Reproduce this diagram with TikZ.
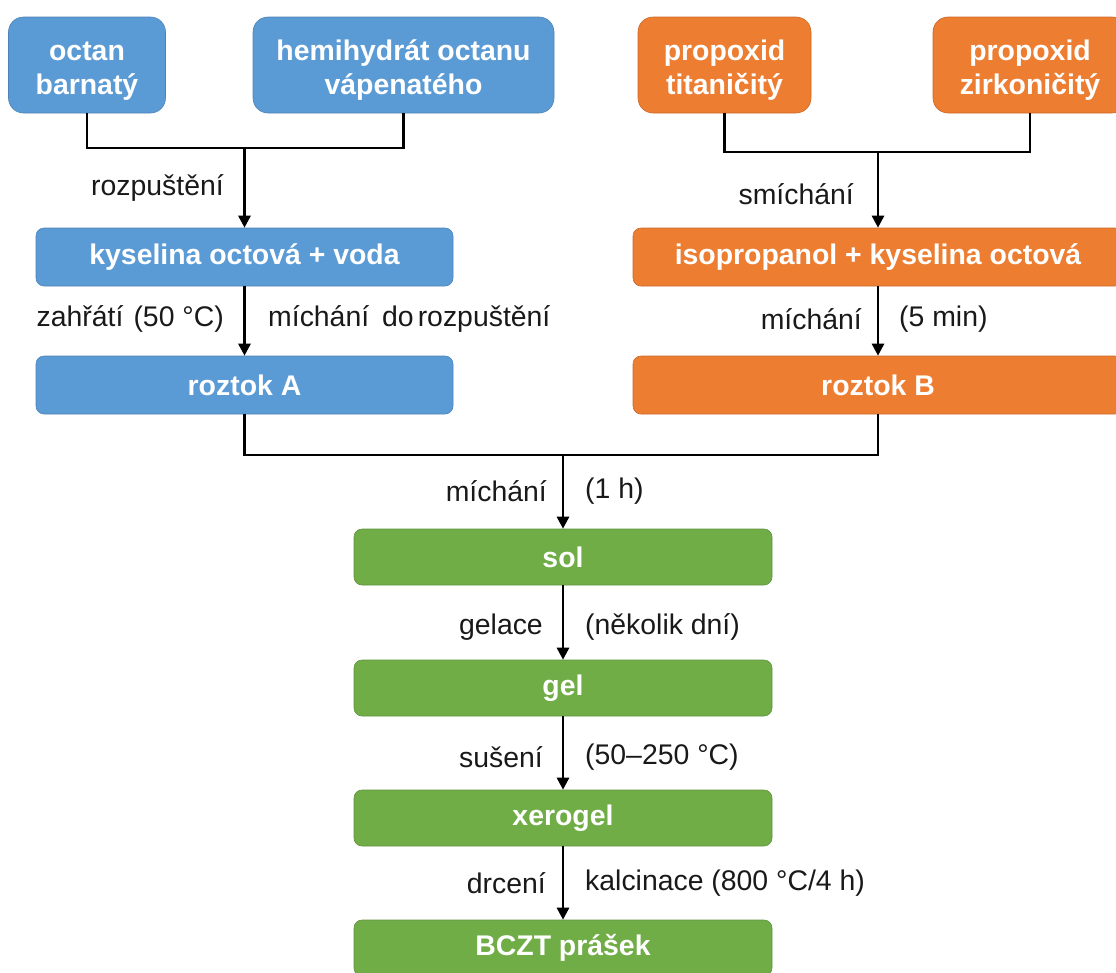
\documentclass[tikz,border=0pt]{standalone}
\usepackage{fontspec}
\setmainfont{Liberation Sans}
\usetikzlibrary{arrows.meta}
\definecolor{cblue}{HTML}{5B9BD5}
\definecolor{corange}{HTML}{ED7D31}
\definecolor{cgreen}{HTML}{70AD47}
\newcommand\toppad{\rule{0pt}{30pt}}
\begin{document}
\begin{tikzpicture}[x=1pt,y=-1pt,
  box/.style={rounded corners=8pt, draw=#1!85!black, line width=0.6pt, fill=#1,
    text=white, font=\fontsize{28.4}{34}\selectfont\bfseries, align=center, inner sep=0pt},
  topbox/.style={box=#1, rounded corners=15pt, minimum height=96pt},
  flatbox/.style={box=#1, minimum height=58pt},
  conn/.style={line width=2.7pt, draw=black},
  arr/.style={conn, -{Triangle[length=12pt,width=12pt]}},
  lbl/.style={font=\fontsize{28.4}{33}\selectfont, inner sep=0pt, text=black!90}]
\useasboundingbox (0,0) rectangle (1116,972);
\clip (0,0) rectangle (1116,972);

% top boxes
\node[topbox=cblue, minimum width=157pt] (ob) at (87,65) {\toppad octan\\barnatý};
\node[topbox=cblue, minimum width=301pt] (hv) at (403.5,65) {\toppad hemihydrát octanu\\vápenatého};
\node[topbox=corange, minimum width=173pt] (pt) at (724.5,65) {\toppad propoxid\\titaničitý};
\node[topbox=corange, minimum width=194pt] (pz) at (1030,65) {\toppad propoxid\\zirkoničitý};

% second row
\node[flatbox=cblue, minimum width=417pt] (ka) at (244.5,257) {kyselina octová + voda};
\node[flatbox=corange, minimum width=490pt] (ip) at (878,257) {isopropanol + kyselina octová};

% third row
\node[flatbox=cblue, minimum width=417pt] (ra) at (244.5,385) {roztok A};
\node[flatbox=corange, minimum width=490pt] (rb) at (878,385) {roztok B};

% green chain
\node[flatbox=cgreen, minimum width=418pt, minimum height=56pt] (sol) at (563,557) {sol};
\node[flatbox=cgreen, minimum width=418pt, minimum height=56pt] (gel) at (563,688) {gel};
\node[flatbox=cgreen, minimum width=418pt, minimum height=56pt] (xer) at (563,818) {xerogel};
\node[flatbox=cgreen, minimum width=418pt, minimum height=56pt] (bczt) at (563,948) {BCZT prášek};

% junctions
\coordinate (j1) at (244.5,148);
\coordinate (j2) at (878,152);
\coordinate (j3) at (563,455);

\draw[conn] (ob.south) -- (ob.south |- j1) -- (hv.south |- j1) -- (hv.south);
\draw[arr] (j1) -- (ka.north);
\draw[conn] (pt.south) -- (pt.south |- j2) -- (pz.south |- j2) -- (pz.south);
\draw[arr] (j2) -- (ip.north);
\draw[arr] (ka.south) -- (ra.north);
\draw[arr] (ip.south) -- (rb.north);
\draw[conn] (ra.south) -- (ra.south |- j3) -- (rb.south |- j3) -- (rb.south);
\draw[arr] (j3) -- (sol.north);
\draw[arr] (sol.south) -- (gel.north);
\draw[arr] (gel.south) -- (xer.north);
\draw[arr] (xer.south) -- (bczt.north);

% labels
\node[lbl, anchor=east] (l1) at (224,188) {rozpuštění};
\node[lbl, anchor=east] (l2) at (854,194) {smíchání};
\node[lbl, anchor=east] (l3) at (224,319) {zahřátí\hspace{10pt}(50 °C)};
\node[lbl, anchor=west] (l4) at (268,319) {míchání\hspace{13pt}do\hspace{4pt}rozpuštění};
\node[lbl, anchor=east] (l5) at (862,319) {míchání};
\node[lbl, anchor=west] (l6) at (899,319) {(5 min)};
\node[lbl, anchor=east] (l7) at (547,491) {míchání};
\node[lbl, anchor=west] (l8) at (585,491) {(1 h)};
\node[lbl, anchor=east] (l9) at (543,627) {gelace};
\node[lbl, anchor=west] (l10) at (585,627) {(několik dní)};
\node[lbl, anchor=east] (l11) at (543,757) {sušení};
\node[lbl, anchor=west] (l12) at (585,757) {(50–250 °C)};
\node[lbl, anchor=east] (l13) at (546,883) {drcení};
\node[lbl, anchor=west] (l14) at (585,883) {kalcinace (800 °C/4 h)};
\end{tikzpicture}
\end{document}
